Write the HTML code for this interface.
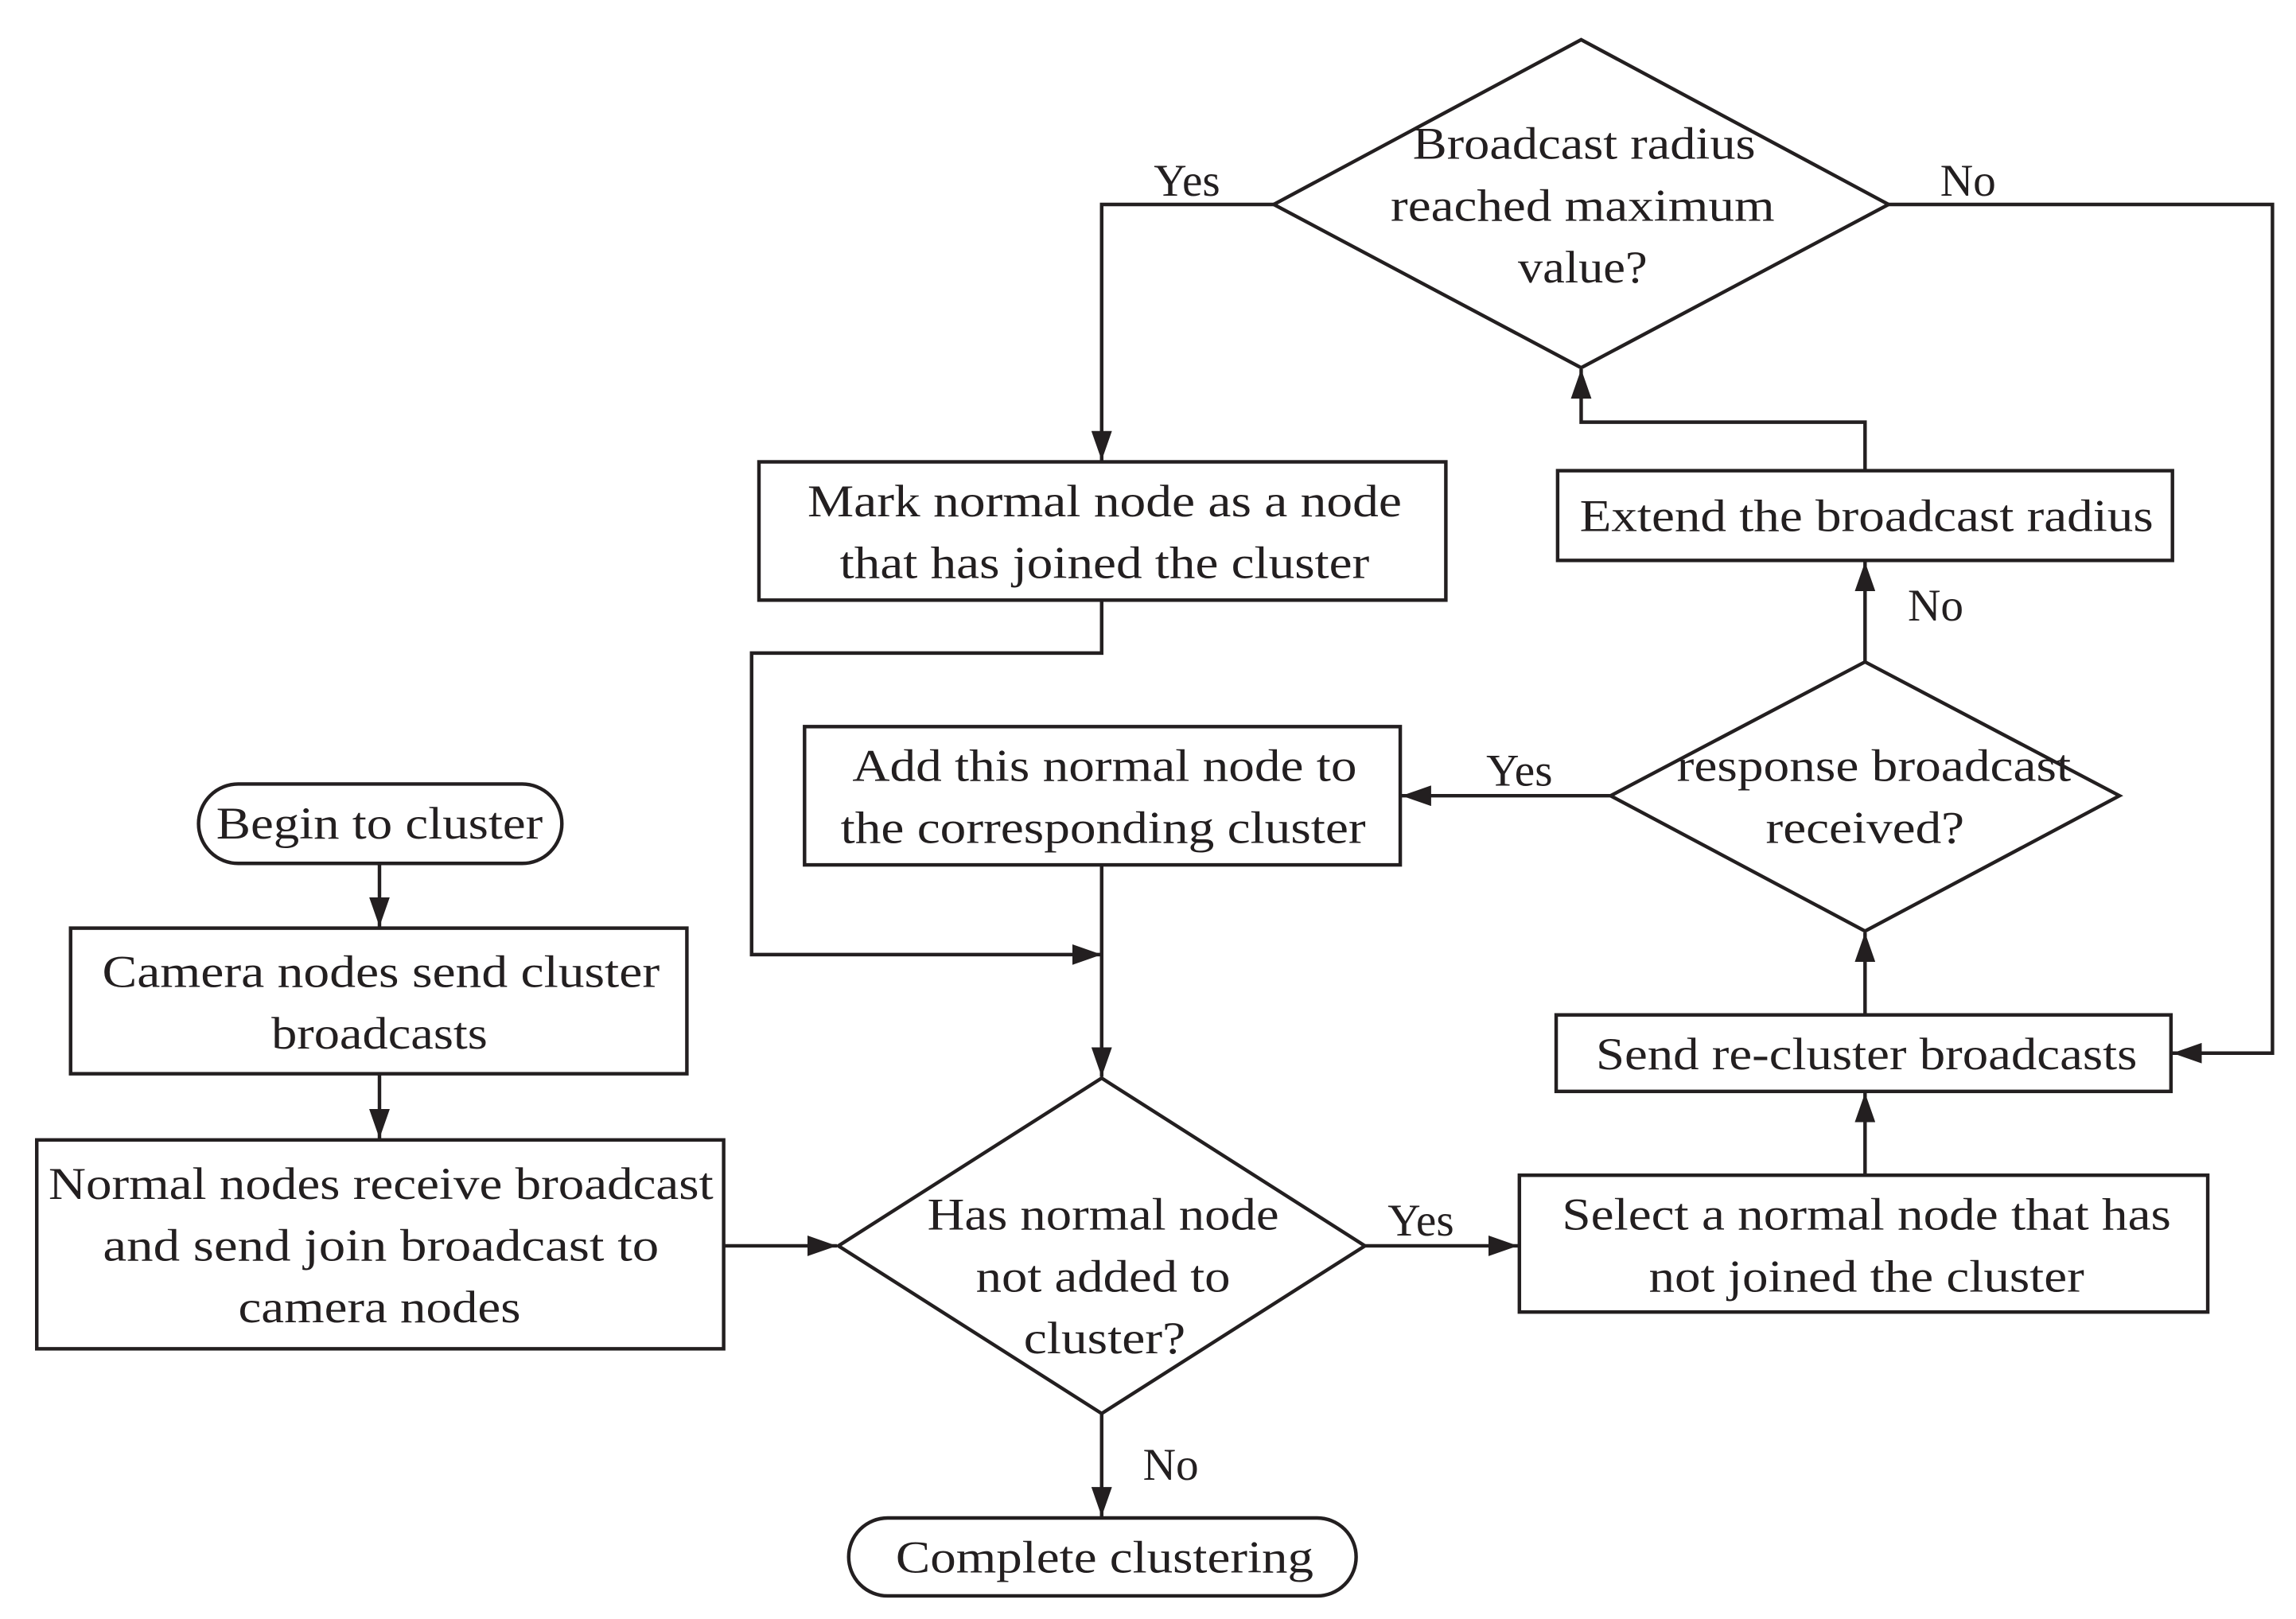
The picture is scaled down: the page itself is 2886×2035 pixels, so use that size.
<!DOCTYPE html>
<html><head><meta charset="utf-8"><style>html,body{margin:0;padding:0;background:#fff}svg{display:block}</style></head>
<body>
<svg width="2886" height="2035" viewBox="0 0 1561 1100.7" xmlns="http://www.w3.org/2000/svg">
<defs>
<marker id="b" viewBox="0 0 20 14" refX="20" refY="7" markerWidth="20" markerHeight="14" markerUnits="userSpaceOnUse" orient="auto"><path d="M0,0 L20,7 L0,14 z" fill="#231f20"/></marker></defs>
<g fill="none" stroke="#231f20" stroke-width="2.4">
<rect x="135" y="533" width="247" height="54" rx="27"/>
<rect x="48" y="631" width="419" height="99"/>
<rect x="25" y="775" width="467" height="142"/>
<polygon points="570,847 749,733 928,847 749,961"/>
<rect x="1033" y="799" width="468" height="93"/>
<rect x="1058" y="690" width="418" height="52"/>
<polygon points="1095,541 1268,450 1441,541 1268,633"/>
<rect x="547" y="494" width="405" height="94"/>
<rect x="516" y="314" width="467" height="94"/>
<polygon points="866,139 1075,27 1284,139 1075,250"/>
<rect x="1059" y="320" width="418" height="61"/>
<rect x="577" y="1032" width="345" height="53" rx="26.5"/>
<g marker-end="url(#b)">
<path d="M258,587 V630"/>
<path d="M258,730 V774"/>
<path d="M492,847 H569"/>
<path d="M928,847 H1032"/>
<path d="M1268,799 V743"/>
<path d="M1268,690 V634"/>
<path d="M1095,541 H953"/>
<path d="M749,588 V732"/>
<path d="M749,408 V444 H511 V649 H749"/>
<path d="M866,139 H749 V313"/>
<path d="M1284,139 H1545 V716 H1477"/>
<path d="M1268,450 V382"/>
<path d="M1268,320 V287 H1075 V251"/>
<path d="M749,961 V1031"/>
</g></g>
<g font-family="Liberation Serif, serif" font-size="31" fill="#231f20" text-anchor="middle" dominant-baseline="central">
<text x="258" y="560" textLength="222" lengthAdjust="spacingAndGlyphs">Begin to cluster</text>
<text x="259" y="661" textLength="379" lengthAdjust="spacingAndGlyphs">Camera nodes send cluster</text>
<text x="258" y="703" textLength="147" lengthAdjust="spacingAndGlyphs">broadcasts</text>
<text x="259" y="805" textLength="452" lengthAdjust="spacingAndGlyphs">Normal nodes receive broadcast</text>
<text x="259" y="847" textLength="378" lengthAdjust="spacingAndGlyphs">and  send join broadcast to</text>
<text x="258" y="889" textLength="192" lengthAdjust="spacingAndGlyphs">camera nodes</text>
<text x="750" y="826" textLength="239" lengthAdjust="spacingAndGlyphs">Has normal node</text>
<text x="750" y="868" textLength="173" lengthAdjust="spacingAndGlyphs">not added to</text>
<text x="751" y="910" textLength="110" lengthAdjust="spacingAndGlyphs">cluster?</text>
<text x="1269" y="826" textLength="414" lengthAdjust="spacingAndGlyphs">Select a normal node that has</text>
<text x="1269" y="868" textLength="296" lengthAdjust="spacingAndGlyphs">not joined the cluster</text>
<text x="1269" y="717" textLength="368" lengthAdjust="spacingAndGlyphs">Send re-cluster broadcasts</text>
<text x="1274" y="521" textLength="268" lengthAdjust="spacingAndGlyphs">response broadcast</text>
<text x="1268" y="563" textLength="135" lengthAdjust="spacingAndGlyphs">received?</text>
<text x="751" y="521" textLength="343" lengthAdjust="spacingAndGlyphs">Add this normal node to</text>
<text x="750" y="563" textLength="357" lengthAdjust="spacingAndGlyphs">the corresponding cluster</text>
<text x="751" y="341" textLength="404" lengthAdjust="spacingAndGlyphs">Mark normal node as a node</text>
<text x="751" y="383" textLength="360" lengthAdjust="spacingAndGlyphs">that has joined the cluster</text>
<text x="1269" y="351" textLength="390" lengthAdjust="spacingAndGlyphs">Extend the broadcast radius</text>
<text x="1077" y="98" textLength="233" lengthAdjust="spacingAndGlyphs">Broadcast radius</text>
<text x="1076" y="140" textLength="261" lengthAdjust="spacingAndGlyphs">reached maximum</text>
<text x="1076" y="182" textLength="88" lengthAdjust="spacingAndGlyphs">value?</text>
<text x="751" y="1059" textLength="284" lengthAdjust="spacingAndGlyphs">Complete clustering</text>
<text x="807" y="123">Yes</text>
<text x="1338" y="123">No</text>
<text x="1316" y="412">No</text>
<text x="1033" y="524">Yes</text>
<text x="966" y="830">Yes</text>
<text x="796" y="996">No</text>
</g>
</svg>
</body></html>
